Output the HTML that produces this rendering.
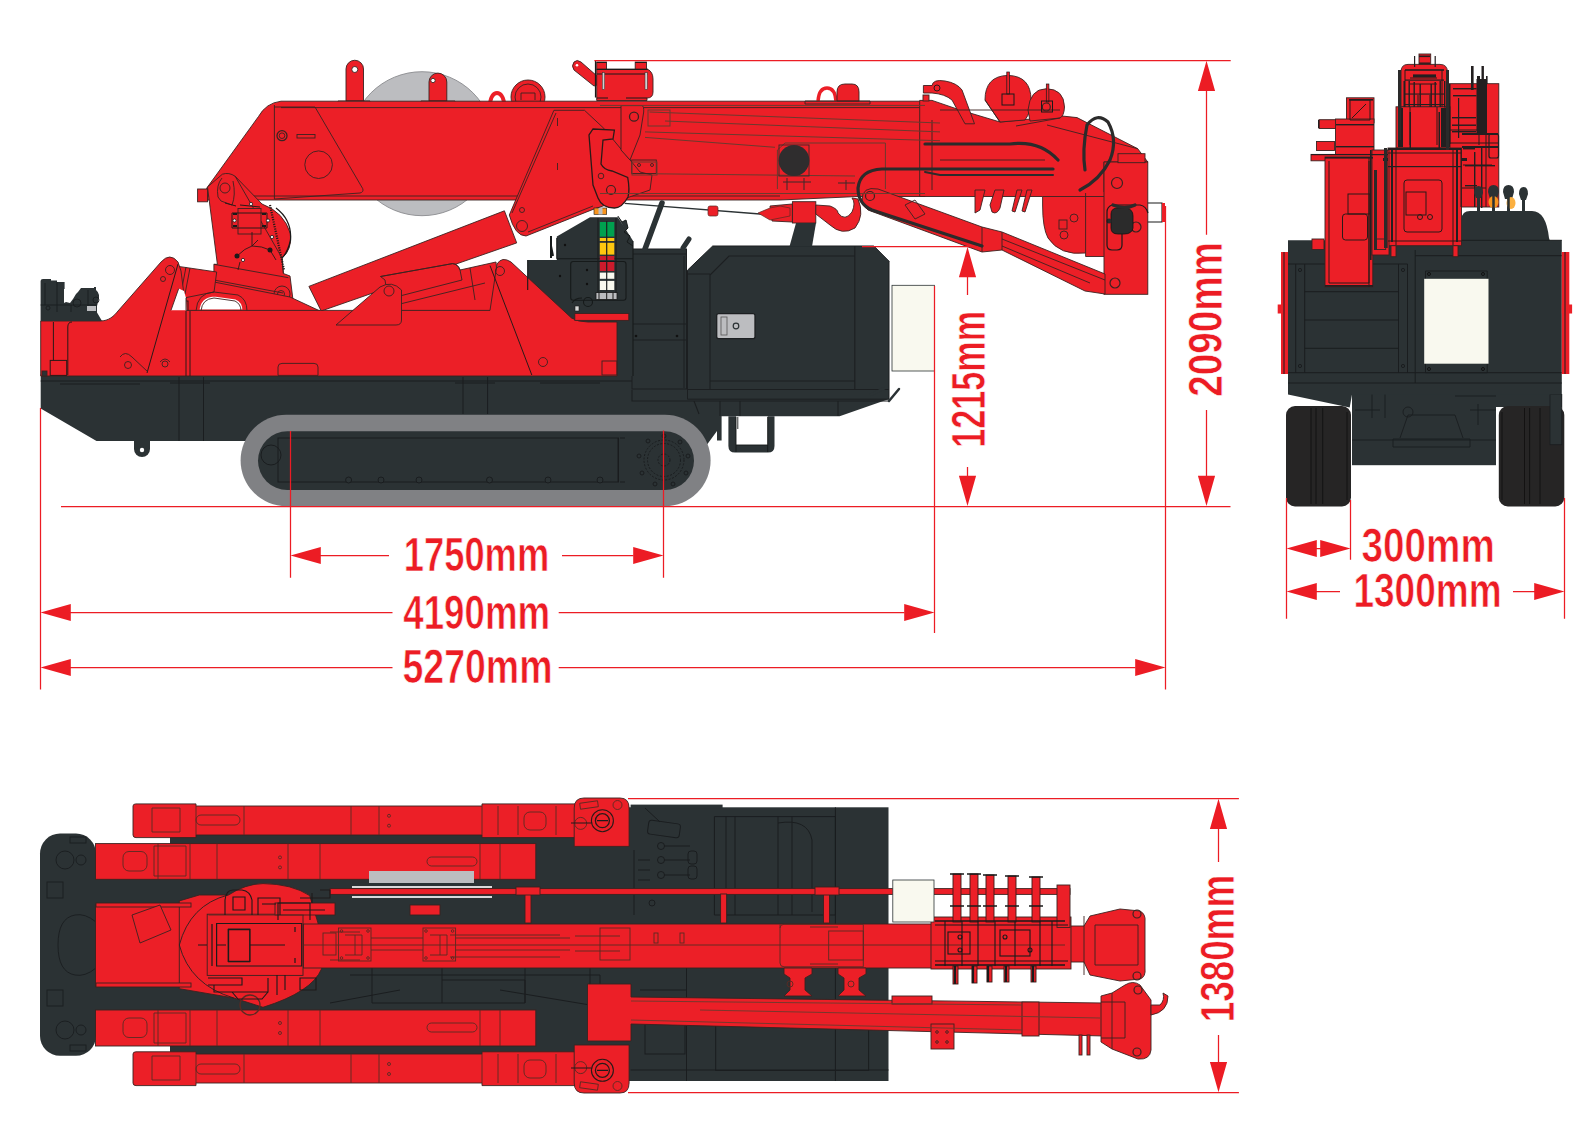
<!DOCTYPE html>
<html><head><meta charset="utf-8">
<style>
html,body{margin:0;padding:0;background:#fff;}
body{width:1588px;height:1128px;overflow:hidden;}
svg{display:block;}
.t{font-family:"Liberation Sans",sans-serif;font-weight:bold;fill:#ec1c24;stroke:#fff;stroke-width:0.7px;}
</style></head>
<body>
<svg width="1588" height="1128" viewBox="0 0 1588 1128">
<rect width="1588" height="1128" fill="#fff"/>

<g id="side">
  <!-- chassis -->
  <path fill="#2b3234" d="M40.7 374 H632 V389 H889 V399 L839.6 416.3 H721.6 V440.5 H717 V431 L706 446 L690 446 H258 V441 H96.5 L40.7 408.5 Z"/>
  <!-- track -->
  <rect x="240.6" y="414.8" width="470" height="91.4" rx="45.7" fill="#808184"/>
  <rect x="258" y="431.3" width="436" height="58.8" rx="29.4" fill="#2b3234"/>
  <g fill="none" stroke="#1a1d1f" stroke-width="1">
    <rect x="278" y="438" width="340.5" height="44"/>
    <circle cx="271" cy="455" r="10"/>
    <circle cx="664" cy="460" r="20" stroke-dasharray="2 1.5"/>
    <circle cx="664" cy="460" r="16.5" stroke-dasharray="2 1.5"/>
    <circle cx="664" cy="460" r="6" stroke-dasharray="2 1.5"/>
    <circle cx="664" cy="436" r="2"/><circle cx="680" cy="442" r="2"/><circle cx="688" cy="456" r="2"/><circle cx="686" cy="473" r="2"/><circle cx="673" cy="484" r="2"/><circle cx="655" cy="484" r="2"/><circle cx="642" cy="473" r="2"/><circle cx="639" cy="456" r="2"/><circle cx="648" cy="441" r="2"/>
    <path d="M618 438 V482 M620 438 H625 M620 482 H625"/>
    <path d="M179 377 V441 M203.5 377 V441 M463 377 V414 M487.6 377 V414 M40.7 381 H640 M60 384 H140 M170 383 H210 M455 383 H495 M540 383 H600"/>
  </g>
  <g fill="#2b3234" stroke="#1a1d1f" stroke-width="1">
    <circle cx="348.6" cy="480" r="3"/><circle cx="381" cy="480" r="3"/><circle cx="419" cy="480" r="3"/><circle cx="489.5" cy="480" r="3"/><circle cx="548" cy="480" r="3"/><circle cx="600" cy="480" r="3"/>
  </g>
  <!-- step -->
  <path fill="#2b3234" d="M728.4 416.3 V446 Q728.4 452.6 735 452.6 H768 Q774.5 452.6 774.5 446 V416.3 H767.7 V445 H736 V416.3 Z"/>
  <path fill="none" stroke="#151818" stroke-width="0.9" d="M736 417 V452 M767.7 417 V452 M736 445 H767.7 M737.8 417 V429" stroke-width="1.4"/>
  <!-- hook under chassis -->
  <path fill="#2b3234" d="M134 441 H150 V449 A8 8 0 0 1 134 449 Z"/>
  <circle cx="142" cy="450" r="2.2" fill="#fff"/>
  <!-- engine cover -->
  <path fill="#2b3234" stroke="#1c1f21" stroke-width="1" d="M687.5 270.2 L712.7 246 H873.9 L889 261.2 V399.2 H687.5 Z"/>
  <path fill="none" stroke="#1c1f21" stroke-width="1.1" d="M729 256 H854.8 V381 H710 V275 Z M710 275 V390 M687.5 274 H710 M854.8 246 V390 M687.5 389.5 H889 M632 390 V401 H889 M694 401 L699 414 M720 401 V416 M740 401 V416 M838 401 V416"/>
  <rect x="716.7" y="313.6" width="38.3" height="25.1" rx="2" fill="#bcbdc0" stroke="#1c1f21" stroke-width="1.3"/>
  <rect x="721" y="317" width="6" height="18" fill="none" stroke="#555" stroke-width="0.8"/>
  <circle cx="736" cy="326" r="2.8" fill="none" stroke="#2b3234" stroke-width="1.2"/>
  <path fill="none" stroke="#2b3234" stroke-width="2.5" d="M870 395 L885 388"/>
  <path fill="none" stroke="#2b3234" stroke-width="2.5" stroke-linecap="round" d="M889 401 L899 389"/>
  <rect x="892" y="285.3" width="42.4" height="85.7" fill="#f9f9ef" stroke="#2b3234" stroke-width="0.8"/>
  <!-- control box right -->
  <rect x="632" y="249" width="54.5" height="140" fill="#2b3234" stroke="#1c1f21" stroke-width="1"/>
  <path fill="none" stroke="#1c1f21" stroke-width="1" d="M633 254 H686 M633 324 H686 M633 340 H686 M684 256 V388"/>
  <circle cx="636" cy="336" r="1.3" fill="#111"/><circle cx="677" cy="336" r="1.3" fill="#111"/>
  <!-- control tower -->
  <path fill="#2b3234" d="M556.8 236.6 L590 217.2 H617.8 L633 240.7 V376 H527.7 V260 H556.8 Z"/>

  <!-- ===== red parts side ===== -->
  <g fill="#ec1f27" stroke="#3b2320" stroke-width="0.9">
  <!-- disc -->
  <circle cx="422" cy="143.7" r="72" fill="#bcbdc0" stroke="#8a8b8e"/>
  <!-- lugs on boom -->
  <path d="M346 101 V69 A8.75 8.75 0 0 1 363.5 69 V101 Z"/><circle cx="354.8" cy="69.5" r="3" fill="#fff"/><path fill="none" d="M338 101 H370 V104 H338 Z"/>
  <path d="M429 101 V82 A8.9 8.9 0 0 1 446.8 82 V101 Z"/><circle cx="433" cy="80.5" r="2.2" fill="#fff"/><path fill="none" d="M421 101 H455 V104 H421 Z"/>
  <path d="M489.6 106 Q491 93 497 93 Q503 93 504.7 106" fill="none" stroke="#ec1f27" stroke-width="4"/>
  <circle cx="528" cy="97" r="17"/><path fill="none" d="M521 100 V93 H535 V100"/><circle cx="528" cy="97" r="13" fill="none"/>
  <path d="M574 62 Q577 59 581 62 L597 76 V85 L594 86 L574 70 Q571 66 574 62 Z"/>
  <circle cx="577" cy="65.3" r="1.3" fill="#fff" stroke="none"/>
  <path d="M596.7 69.3 H647.7 Q653 72 653 79 V92 Q653 98 647 98 V100.5 H596.7 Z"/>
  <rect x="596.7" y="62" width="9.8" height="7.3"/>
  <rect x="635.2" y="62" width="11.3" height="7.3"/>
  <path fill="none" stroke="#1a1a1a" stroke-width="1.2" d="M595.5 60.5 V97.6 M596.7 62.5 H606.5 M635.2 62.5 H646.5 M596.7 69.3 H647.7 M596.7 74 H647.7 M597 98 H608 M626 98 H647"/>
  <rect x="602.3" y="72.7" width="2.3" height="16.6" fill="#d0d0d0" stroke="#333" stroke-width="0.5"/>
  <rect x="645" y="72.7" width="2.3" height="16.6" fill="#d0d0d0" stroke="#333" stroke-width="0.5"/>
  <!-- main boom -->
  <path d="M206.6 188.3 L258.5 116.5 Q266 103 281 101.2 H925 V196.5 H858 L780 200 H206.6 Z"/>
  <path fill="none" d="M274.4 105 V199 M281 107.6 H925 M206.6 196 H780"/>
  <!-- knuckle plate -->
  <path d="M553.9 110.3 H584.5 L603.8 128.3 L640 172 L652 175 L650 190 L593 209.4 L526 236 Q515 236 509.3 215 Z"/>
  <path fill="none" d="M556 113 L512 213 M528 232 L593 206 M557.5 118 V126 M557.5 163 V170"/>
  <circle cx="522" cy="226" r="5.5" fill="none"/><circle cx="522" cy="210" r="2.5" fill="none"/>
  <path d="M621 105.6 H642 Q644 106 643.7 112 L640 135 L630 160 L621 150 Z"/>
  <path d="M593 129 L614.4 130.2 L613 139 L603 140 L601 164 Q604 170 612 171 L627.7 177.5 Q630 190 628 197 Q622 208 614.4 208 Q602 208 598 198 L593 185 L589 135 Z" stroke="#2a1a18" stroke-width="1.3"/>
  <rect x="631.7" y="160" width="24.6" height="13.5" fill="none"/>
  <circle cx="634" cy="116.7" r="4.5" fill="none" stroke-width="1.3"/>
  <circle cx="611" cy="190" r="4.5" fill="none" stroke-width="1.2"/><circle cx="601" cy="176" r="2.8" fill="none"/>
  <circle cx="639" cy="165" r="1.5" fill="none"/><circle cx="652" cy="165" r="1.5" fill="none"/>
  <path d="M274.4 107 H315 L362.7 188.6 Q364 192 360 193 L274.4 199" fill="none"/><circle cx="282" cy="135.7" r="5" fill="none" stroke-width="1.3"/><circle cx="282" cy="135.7" r="2.8" fill="none"/><circle cx="318.6" cy="164.7" r="13.8" fill="none"/><rect x="297" y="134.5" width="18" height="3.5" fill="none"/>
  <!-- tip -->
  <path d="M919.7 100.4 H932 L960 110 L1000 122 L1062 116 L1077 117.6 L1137.7 148.7 L1147.8 162 H1104 V192 H1105 V256.5 H1085.6 V253 Q1060 256 1048 238 Q1042.6 228 1042.6 205 V196.5 H919.7 Z"/>
  <path d="M985 100 Q985 76 1008 75.4 Q1031 76 1031 100 Q1031 112 1025 120 L1000 122 Z"/>
  <path d="M1028 110 Q1030 89 1046.3 88.7 Q1064 89 1064.5 107 Q1064 116 1060 118 L1030 121 Z"/>
  <path d="M923.4 85.5 H932 Q933 79 945 81 Q957 83 962 90 L974.5 123.8 L965 123.8 L952 100 Q945 94 932 93 H923.4 Z"/>
  <rect x="1104" y="162" width="43.8" height="132.3"/>
  <rect x="1118" y="153.7" width="27" height="9"/>
  <path fill="none" d="M1042.6 196.5 H1104 M1085.6 193 V253 M1047 125 L1137.7 148.7 M985 100 L1000 122 M1016 126 L1060 118 M940 110 H1060 M940 160 H1045 M932 120 V190"/>
  <rect x="1006.8" y="72" width="2.6" height="22" fill="#ec1f27" stroke="#1a1a1a" stroke-width="0.7"/>
  <rect x="1046.3" y="84" width="2.6" height="18" fill="#ec1f27" stroke="#1a1a1a" stroke-width="0.7"/>
  <rect x="1002" y="94" width="12" height="11" fill="none" stroke="#1a1a1a" stroke-width="1"/>
  <rect x="1041.5" y="101" width="11" height="11" fill="none" stroke="#1a1a1a" stroke-width="1"/>
  <circle cx="937" cy="88" r="3" fill="none" stroke="#1a1a1a" stroke-width="0.9"/>

  <circle cx="1046.3" cy="107" r="4" fill="none" stroke-width="1.2"/>
  <circle cx="1064" cy="235" r="4" fill="none"/><circle cx="1074" cy="218" r="4" fill="none"/><rect x="1059" y="220" width="8" height="9" fill="none"/>
  <circle cx="1117" cy="183" r="5.5" fill="none" stroke-width="1.2"/><circle cx="1136" cy="227" r="5" fill="none" stroke-width="1.2"/><circle cx="1115" cy="283" r="5" fill="none" stroke-width="1.2"/>
  <path d="M1147.8 203 H1162 V222 H1147.8" fill="none" stroke="#1a1a1a" stroke-width="1.1"/>
  <rect x="1162" y="203" width="3" height="19" fill="#ec1f27" stroke="none"/>
  <path d="M1111 214 Q1111 208 1118 208 H1126 Q1133 209 1133 216 V228 Q1132 234 1124 234 H1118 Q1111 234 1111 228 Z" fill="#2b2b2b" stroke="#111" stroke-width="0.8"/>
  <circle cx="1109" cy="221" r="2.5" fill="#2b2b2b" stroke="none"/>
  <path d="M1122 234 V245 Q1122 250 1117 250 H1112 Q1107 250 1107 245 V212 Q1107 207 1112 205 H1140 Q1146 206 1148 213" fill="none" stroke="#1a1a1a" stroke-width="1.2"/>
  <path d="M975 190 L985 190 L980 210 L975 213 Z M995 190 L1004 190 L1000 208 Q997 215 992 212 L990 205 Z M1017 190 L1022 190 L1015 212 L1012 211 Z M1027 190 L1032 190 L1025 212 L1022 211 Z"/>
  <!-- hook under boom -->
  <rect x="792.4" y="201.7" width="23.4" height="21.3"/>
  <path d="M770 206 L792.4 204 V222 L772 221 Z"/>
  <circle cx="784" cy="212" r="4" fill="none"/>
  <path d="M815.8 205 L830 206 Q838 209 838 213 Q845 222 852 212 Q856 203 852 198 L858 199 Q865 215 855 228 Q842 236 830 225 L815.8 214 Z"/>
  <!-- diagonal arm -->
  <path d="M862 200 Q862 186 878 189 L982 227 L1002 232 L1105 274 V294 L1085 291 L1002 250 L982 252 L868 210 Q862 206 862 200 Z"/>
  <path fill="none" d="M982 227 V252 M1002 232 V250 M1002 239 L1105 280 M1002 246 L1090 283 M905 205 L915 200 L925 214 L915 219 Z"/>
  <circle cx="870" cy="196" r="4.5" fill="none" stroke-width="1.2"/>
  <path d="M818 101 Q819 88 827 88 Q835 88 836 101" fill="none" stroke="#ec1f27" stroke-width="3.5"/>
  <path d="M837 101 V92 Q837 84 845 84 H852 Q859 84 859 92 V101 Z"/>
  <path fill="none" d="M805 101 H870 V104 H805 Z"/>
  <rect x="923" y="95" width="6" height="6"/>
  <!-- main cylinder -->
  <path d="M308.9 286.4 L504.4 210.8 L516.7 242.9 L321.2 311 Z"/>
  <!-- left link -->
  <path d="M207.5 187 L222.4 174.2 Q229 172 235.2 176.3 L262 204 Q284 212 290.5 233.8 Q292 250 282 258 L283.4 273.5 L290 276 L293 300 L288 306 L272 306 L240 300 L214 292 L213.9 264.3 L217.4 264.3 Z"/>
  <rect x="197.6" y="189" width="9.9" height="12.8"/>
  <path fill="none" d="M235.2 176.3 L282 258 L283.4 273.5 M213.9 264.3 L288.4 277.7 M214 280 L283 293 M222 178 Q216 185 218 197 L221 201 L232 205 Q236 195 233 181"/>
  <circle cx="225" cy="188" r="5" fill="none"/>
  <rect x="238" y="208.5" width="23" height="25.5"/>
  <path fill="none" d="M232 213 H267 V228 H232 Z M240 205 L260 207 M225 203 L236 206" stroke="#2a1a18" stroke-width="1"/>
  <rect x="233" y="213" width="4" height="2" fill="#1a1a1a" stroke="none"/><rect x="233" y="225" width="4" height="2" fill="#1a1a1a" stroke="none"/>
  <rect x="262" y="213" width="4" height="2" fill="#1a1a1a" stroke="none"/><rect x="262" y="225" width="4" height="2" fill="#1a1a1a" stroke="none"/>
  <circle cx="234.5" cy="220.5" r="1.6" fill="#fff" stroke="#1a1a1a" stroke-width="0.8"/><circle cx="268" cy="220.5" r="1.6" fill="#fff" stroke="#1a1a1a" stroke-width="0.8"/>
  <circle cx="251" cy="204" r="1.6" fill="#fff" stroke="#1a1a1a" stroke-width="0.8"/><circle cx="272" cy="237" r="1.6" fill="#fff" stroke="#1a1a1a" stroke-width="0.8"/>
  <circle cx="237" cy="256" r="2.5" fill="#1a1a1a" stroke="none"/><circle cx="270" cy="250" r="2.5" fill="#1a1a1a" stroke="none"/><circle cx="243" cy="260" r="1.6" fill="#fff" stroke="#1a1a1a" stroke-width="0.8"/>
  <path fill="none" d="M237 256 Q245 248 252 246 L258 240 M252 246 Q262 246 270 250 L276 260 M240 262 L238 270 M252 232 V246" stroke="#2a1a18" stroke-width="0.9"/>
  <path fill="none" d="M276 208 Q292 220 290.5 240 Q288 252 282 258" stroke="#1a1a1a" stroke-width="1.3"/>
  <path fill="none" d="M270 205 L284 270" stroke="#2a1a18" stroke-width="2.2" stroke-dasharray="1.2 1.2"/>
  <circle cx="282" cy="294" r="8" fill="none"/>
  <circle cx="281" cy="294" r="3.5" fill="none"/>
  <path d="M186 290 L214 282 L290 297 L320 311 H186 Z"/>
  <rect x="184.5" y="301" width="3.5" height="73" fill="none" stroke="#2a1a18" stroke-width="1"/>
  <rect x="188" y="331" width="2.5" height="42" fill="none" stroke="#2a1a18" stroke-width="0.8"/>
  <circle cx="127.5" cy="353.8" r="4" fill="none" stroke-width="1.3"/><circle cx="120" cy="353.8" r="0"/>
  <circle cx="120" cy="354" r="0"/>
  <!-- left leg cylinder -->
  <path d="M178.4 266.4 L216.7 272 L214 292 L184 298 L179 285 Z"/>
  <path fill="none" d="M186 267 L181 293 M190 268 L185 294"/>
  <path d="M198 311 Q199 296 214 295 L236 298 Q244 301 244 311 Z" fill="#fff" stroke="#ec1f27" stroke-width="3"/>
  <path d="M196 311 Q197 293 214 292 L238 295 Q247 299 247 311 M201 311 Q202 299 214 298 L235 301 Q241 304 241 311" fill="none" stroke="#3b2320" stroke-width="0.9"/>
  <!-- lower cylinder mid -->
  <path d="M385 280 L380.5 276.5 L452.5 263.6 Q458 264 460 270 L496 262 L500 311 H390 Z"/>
  <path fill="none" d="M380.5 276.5 L452.5 263.6 Q458 264 460 270 L462 280 L392 298 M400 304 L485 283 M470 268 L475 300"/>
  <!-- body -->
  <path d="M40.7 321 H100 C109 321 114 316 118 311 L161 262 Q170 252 178 262 L181 271 L186 310.4 H490 L497 264 Q502 256 511 262 L571.5 318 Q578 322 588 322 H617 V376 H40.7 Z"/>
  <path d="M171 310.3 L178.7 288.5 L184 291 L186 298 L186.5 310.3 Z" fill="#fff" stroke="none"/>
  <path d="M178.7 288.5 L171 310.3 M186 298 V310.3" fill="none"/>
  <path d="M336 325 L380 287 Q392 280 401.5 290 V320 Q401.5 325 396 325 Z"/>
  <rect x="574.8" y="313.5" width="54" height="6.9"/>
  <path fill="none" d="M490 265.6 L531.8 375 M178 264 L147 373 M53.4 322 V360.4 M67.8 375 V327 Q67.8 322 72 322 M186 311 V376 M190 311 V376" stroke="#2a1a18" stroke-width="1"/>
  <path d="M278 375.4 V367 Q278 363.4 282 363.4 H314 Q318 363.4 318 367 V375.4 Z"/>
  <rect x="50.2" y="360.4" width="16.5" height="15" fill="none" stroke="#2a1a18" stroke-width="1"/><rect x="42" y="371" width="5" height="5" fill="#2b3234"/><rect x="602" y="361" width="15" height="14" fill="none"/>
  <circle cx="543" cy="362" r="4.5" fill="none"/><circle cx="128" cy="365" r="3.5" fill="none"/><circle cx="165" cy="364" r="3" fill="none"/>
  <path d="M120 357 Q125 350 132 357 L148 372 M160 362 Q165 356 170 362" fill="none"/>
  <circle cx="170" cy="270" r="4.5" fill="none"/><circle cx="163" cy="279" r="2.5" fill="none"/>
  <circle cx="500" cy="271" r="4.5" fill="none"/><circle cx="389" cy="291" r="5" fill="none"/>
  </g>
  <!-- dark mast under boom -->
  <path fill="#2b3234" d="M796 223 H816 L812 246.5 H789.5 Z"/>
  <g fill="none" stroke="#6b3a2e" stroke-width="1">
    <path d="M649.5 112 L940 123 M665 121 L940 131.9 M645 131.9 L940 140.7 M645 137.4 L775 147.3 M656 173.8 L855 176 M777.4 189 V150 L785 143 H885.4 V189 M600 105.4 H925 M600 193.5 H925"/>
    <rect x="648" y="110" width="22" height="16"/>
    <rect x="632" y="162" width="25" height="13"/>
  </g>
  <rect x="779" y="145" width="30" height="31" fill="none" stroke="#3a2a2a" stroke-width="0.9"/>
  <circle cx="794" cy="160.5" r="15.4" fill="#2f2d2e"/>
  <path fill="none" stroke="#3a2a2a" stroke-width="1" d="M783 182 H811 M787 178 V190 M804 178 V190 M838 183 H855 M846 180 V190"/>
  <g fill="none" stroke="#2b2b2b" stroke-width="3.2" stroke-linecap="round">
    <path d="M1053 169 H882 Q860 170 858 188 Q858 204 872 210 L982 246"/>
    <path d="M1053 175 H940 L925 172" stroke-width="2"/>
    <path d="M1080 190 Q1100 180 1110 160 Q1118 140 1108 122 Q1097 112 1087 125 Q1082 150 1085 170"/>
    <path d="M1135 205 Q1125 210 1113 205"/>
    <path d="M925 144 H1010 Q1040 140 1058 160"/>
  </g>
  <!-- left machinery -->
  <path fill="#2b3234" d="M40.6 281 Q40.6 279 43 279 H51 V280.6 H57 V282 H64.6 V289 H64 V303 L66 302 L70 303 L73 299 L76 294 L78 292 L81 288 H94 V287 H96 V290 Q101 294 98 302 L97 306 V312.6 L102 321 H40.6 Z"/>
  <g fill="none" stroke="#1a1d1f" stroke-width="0.9">
    <path d="M45 283 V305 M57 282 V312 M40.6 305 H97 M71 305 V312 M88 290 V306"/>
    <circle cx="77" cy="303" r="4"/><circle cx="48" cy="308" r="2"/><circle cx="96" cy="300" r="3"/>
  </g>
  <rect x="87" y="306" width="9" height="5" fill="#bcbdc0"/>
  <g fill="none" stroke="#161a1a" stroke-width="1.1">
    <path d="M556.8 258.7 H633 M527.7 260 V290 M556.8 238 V258.7 M633 241 V376"/>
    <rect x="570.7" y="261.5" width="55.3" height="38.8" rx="2.5"/>
    <circle cx="588" cy="302" r="4.5"/><path d="M572 303 Q575 298 582 298"/>
  </g>
  <rect x="596" y="292.5" width="21" height="7" fill="#bcbdc0" stroke="#1a1a1a" stroke-width="0.8"/>
  <path d="M599 292.5 V299.5 M606.7 292.5 V299.5 M613 292.5 V299.5" stroke="#1a1a1a" stroke-width="1"/>
  <rect x="575" y="306" width="4" height="5" fill="#d8d8d8" stroke="#1a1a1a" stroke-width="0.6"/>
  <rect x="594" y="208" width="12.7" height="6.4" fill="#f7941d" stroke="#1a1a1a" stroke-width="0.6"/>
  <rect x="598.5" y="208" width="4" height="6.4" fill="#bcbdc0"/>
  <path d="M617.8 216 L622 222 L626 220 L628 228 L624 232 L630 236 L627 242 L633 246" fill="#2b3234" stroke="#161a1a" stroke-width="1"/>
  <circle cx="560" cy="276" r="1.2" fill="#111"/><circle cx="565" cy="245" r="1.2" fill="#111"/><circle cx="587" cy="270" r="1.2" fill="#111"/><circle cx="587" cy="284" r="1.2" fill="#111"/>
  <path d="M551 246 L553 256 M551 236 V258" stroke="#161a1a" stroke-width="2"/>
  <!-- colour bars -->
  <rect x="599.8" y="222" width="14.5" height="14.6" fill="#00a04f"/>
  <rect x="599.8" y="238" width="14.5" height="3" fill="#fdc70f"/>
  <rect x="599.8" y="242.8" width="14.5" height="11.8" fill="#fdc70f"/>
  <rect x="599.8" y="256" width="14.5" height="4" fill="#cc1b2c"/>
  <rect x="599.8" y="262" width="14.5" height="9" fill="#cc1b2c"/>
  <rect x="599.8" y="272.6" width="14.5" height="6.2" fill="#f9f9ef"/>
  <rect x="599.8" y="280.9" width="14.5" height="9.1" fill="#f9f9ef"/>
  <path stroke="#1c1f21" stroke-width="1.2" d="M606.7 221 V291 M598 218 V293 M616 218 V293"/>
  <!-- levers -->
  <path stroke="#2b3234" stroke-width="5.5" stroke-linecap="round" d="M645 249 L662 203"/>
  <path stroke="#2b3234" stroke-width="5" stroke-linecap="round" d="M683 248 L689 239"/>
  <path stroke="#2b3234" stroke-width="1.3" fill="none" d="M624.7 203.3 L760 214 L772 212"/>
  <rect x="708" y="206" width="10" height="10" rx="2" fill="#ec1f27" stroke="#5a2a22" stroke-width="0.7"/>
  <path d="M758 213 L770 208 L780 206 L790 208 L790 216 L770 220 Z" fill="#ec1f27" stroke="#5a2a22" stroke-width="0.7"/>
</g>


<g id="front">
  <!-- undercarriage -->
  <rect x="1352" y="394" width="144" height="71.2" fill="#2b3234"/>
  <rect x="1352" y="394" width="209.8" height="13" fill="#2b3234"/>
  <g fill="none" stroke="#1a1d1f" stroke-width="0.9">
    <path d="M1352 440 H1496 M1400 438 L1408 415 H1455 L1463 438 M1393 439 H1470 V447 H1393 Z M1372 384 V418 M1385 384 V418 M1372 384 Q1378 378 1385 384 M1478 404 V425 M1455 396 H1496 M1355 410 H1380 M1470 410 H1496"/>
    <circle cx="1408" cy="412" r="5"/>
  </g>
  <!-- wheels -->
  <rect x="1286" y="406" width="65" height="100.4" rx="9" fill="#262525"/>
  <rect x="1498.8" y="406" width="65.5" height="100.4" rx="9" fill="#262525"/>
  <path stroke="#111" stroke-width="0.9" d="M1311 408 V504 M1316 408 V504 M1322.7 408 V504 M1347 412 V500 M1524.5 408 V504 M1529.6 408 V504 M1540 408 V504 M1502 412 V500"/>
  <rect x="1550" y="394.5" width="11.8" height="50.2" fill="#2b3234" stroke="#1a1d1f" stroke-width="0.8"/>
  <!-- body -->
  <path fill="#2b3234" d="M1288 240.3 H1561.8 V394.5 H1352 L1349.7 407.4 L1288 394.5 Z"/>
  <path fill="#2b3234" d="M1461.5 241 V219 Q1462 211 1470 211 H1532 Q1546 211 1549 238 L1550 241 Z"/>
  <path fill="none" stroke="#1a1d1f" stroke-width="1" d="M1415.2 250 V383 M1415.2 255.7 H1561.8 M1288 372.7 H1561.8 M1288 383 H1561.8 M1295.7 264 V372.7 M1304.7 264 V372.7 M1398.5 264 V372.7 M1407.5 264 V372.7 M1304.7 291.7 H1398.5 M1304.7 320 H1398.5 M1304.7 348.3 H1398.5 M1288 264 H1407.5 M1458.7 240.3 H1561.8"/>
  <circle cx="1300" cy="270" r="1.6" fill="none" stroke="#1a1d1f"/><circle cx="1300" cy="366" r="1.6" fill="none" stroke="#1a1d1f"/><circle cx="1403" cy="270" r="1.6" fill="none" stroke="#1a1d1f"/><circle cx="1403" cy="366" r="1.6" fill="none" stroke="#1a1d1f"/>
  <path fill="#2b3234" stroke="#1a1d1f" stroke-width="1" d="M1425.5 271 H1487.2 V372.7 H1425.5 Z"/>
  <rect x="1424.2" y="278.8" width="64.3" height="84.9" fill="#f9f9ef"/>
  <circle cx="1429" cy="274" r="1.5" fill="none" stroke="#111"/><circle cx="1483" cy="274" r="1.5" fill="none" stroke="#111"/><circle cx="1429" cy="369" r="1.5" fill="none" stroke="#111"/><circle cx="1483" cy="369" r="1.5" fill="none" stroke="#111"/>
  <!-- side red strips -->
  <rect x="1281" y="252" width="7" height="122" fill="#ec1f27"/>
  <rect x="1277.7" y="304.5" width="10.3" height="9" fill="#ec1f27"/>
  <rect x="1561.8" y="252" width="7.5" height="122" fill="#ec1f27"/>
  <rect x="1561.8" y="304.5" width="10.3" height="9" fill="#ec1f27"/>
  <path stroke="#1a1d1f" stroke-width="1" d="M1284 252 V374 M1565 252 V374"/>
  <!-- red upper structure -->
  <g fill="#ec1f27" stroke="#3b2320" stroke-width="0.9">
    <rect x="1449" y="83.7" width="49.8" height="123.3"/>
    <path d="M1401 106.8 V72 Q1401 64.4 1408 64.4 H1440 Q1447.4 64.4 1447.4 72 V106.8 Z"/>
    <rect x="1419" y="54" width="11.7" height="10.4"/>
    <rect x="1396" y="106.8" width="54" height="41.2"/>
    <rect x="1388" y="148" width="73.5" height="97.7"/>
    <rect x="1391" y="245.7" width="5" height="11"/><rect x="1453" y="245.7" width="5" height="11"/>
    <rect x="1346.5" y="97.8" width="27.5" height="25"/>
    <rect x="1319" y="119.7" width="18" height="8.8"/>
    <rect x="1335.5" y="119" width="38.5" height="38"/>
    <rect x="1316.5" y="141.5" width="18" height="9"/>
    <rect x="1311" y="154.4" width="77" height="6.4"/>
    <rect x="1325" y="157" width="47.8" height="129.8"/>
    <rect x="1372" y="150" width="17" height="105"/>
    <rect x="1312" y="239" width="12" height="10.5"/><rect x="1375.4" y="239" width="10.3" height="10.5"/>
  </g>
  <g fill="none" stroke="#2a1a18" stroke-width="1">
    <path d="M1329 161 V283 H1369 V161 M1369 157 V287 M1396 148 V245 M1453 148 V245 M1388 241 H1461.5 M1388 153 H1461.5 M1401 145 V107 M1445 145 V107 M1410 107 V145 M1437 107 V145 M1405 70 V107 M1442 70 V107 M1410 78 H1437 M1410 84 H1437 M1418 107 V95 M1430 107 V95 M1449 130 H1486 M1449 143 H1498.8 M1486 84 V207 M1479 88 V145 M1461 150 V207 M1463 165 H1492 M1462 188 H1486"/>
    <rect x="1404" y="180" width="38" height="52" rx="3"/>
    <rect x="1406" y="192" width="20" height="23"/>
    <rect x="1342.5" y="214" width="25" height="26" rx="3"/>
    <rect x="1348" y="194" width="22" height="20"/>
    <circle cx="1420" cy="217" r="2.5"/><circle cx="1430" cy="217" r="2.5"/>
    <circle cx="1347" cy="102" r="0"/>
    <path d="M1350 100 L1370 100 L1370 120 L1350 120 Z M1352 118 L1366 104"/>
  </g>
  <g fill="#231f20">
    <rect x="1419" y="55.5" width="11" height="1.6"/><rect x="1419" y="62.5" width="11" height="1.4"/>
    <rect x="1414" y="56" width="1.2" height="11"/><rect x="1434.6" y="56" width="1.2" height="11"/>
    <rect x="1405" y="69.2" width="39" height="1.6"/><rect x="1413" y="74.4" width="23" height="3"/><rect x="1405" y="79.5" width="39" height="1.2"/>
    <rect x="1403.5" y="81" width="1.5" height="26"/><rect x="1408.5" y="81" width="1.4" height="26"/><rect x="1413.5" y="82" width="1.4" height="25"/><rect x="1419.5" y="84" width="1.4" height="23"/>
    <rect x="1430.5" y="84" width="1.4" height="23"/><rect x="1434.5" y="82" width="1.4" height="25"/><rect x="1439.5" y="81" width="1.4" height="26"/><rect x="1444" y="81" width="1.4" height="26"/>
    <rect x="1405" y="93.5" width="39" height="1.1"/><rect x="1405" y="104" width="39" height="1.1"/>
    <rect x="1398" y="108" width="5" height="39"/><rect x="1441" y="108" width="9" height="39"/>
    <rect x="1409.5" y="112" width="1.5" height="36"/><rect x="1438.5" y="112" width="1.5" height="36"/>
    <rect x="1471" y="66" width="2.6" height="24"/><rect x="1481.5" y="66" width="2.4" height="14"/>
    <rect x="1477" y="76" width="3" height="7"/><rect x="1486" y="76" width="1.6" height="8"/>
    <rect x="1476.5" y="79" width="10.5" height="54"/>
    <rect x="1453" y="88" width="23.5" height="1.4"/><rect x="1453" y="95" width="23.5" height="1.4"/>
    <rect x="1452" y="117" width="24" height="1.4"/><rect x="1452" y="124.5" width="24" height="1.4"/><rect x="1452" y="131" width="24" height="1.4"/>
    <rect x="1462" y="133" width="36" height="2"/><rect x="1462" y="146" width="36" height="2"/>
    <rect x="1449" y="84" width="1.5" height="60"/><rect x="1458" y="98" width="1.2" height="40"/>
    <rect x="1489" y="134" width="9.5" height="24" rx="2" fill="none" stroke="#231f20" stroke-width="1.2"/>
    <rect x="1388" y="148" width="73.5" height="2"/><rect x="1388" y="166" width="73.5" height="1.2"/>
    <rect x="1391" y="150" width="2" height="92"/><rect x="1456" y="150" width="2" height="92"/>
    <rect x="1383" y="158" width="5" height="3"/><rect x="1461" y="158" width="6" height="3"/>
    <rect x="1325" y="157" width="48" height="1.6"/><rect x="1325" y="285" width="48" height="1.8"/>
    <rect x="1370" y="150" width="1.6" height="110"/><rect x="1386" y="150" width="1.6" height="98"/>
    <rect x="1349" y="99" width="24" height="1.6"/><rect x="1336" y="124" width="38" height="1.4"/><rect x="1336" y="146" width="38" height="1.4"/>
    <rect x="1318" y="120" width="1.4" height="8"/><rect x="1311" y="154" width="77" height="1.2"/>
    <rect x="1463" y="148" width="12" height="1.4"/><rect x="1465" y="165" width="30" height="1.4"/><rect x="1465" y="185" width="12" height="1.4"/>
    <rect x="1474" y="152" width="1.4" height="55"/><rect x="1481" y="148" width="1.4" height="60"/>
  </g>
  <g fill="#2a2a2a">
    <rect x="1374" y="170" width="3" height="80"/><rect x="1384" y="148" width="3" height="100"/><rect x="1398" y="70" width="3" height="70"/><rect x="1446" y="70" width="3" height="80"/>
  </g>
  <!-- knobs -->
  <g fill="#2b3234">
    <rect x="1477" y="188" width="3" height="24"/><path d="M1474 193 Q1474 186 1478.5 186 Q1483 186 1483 193 L1481 198 H1476 Z"/>
    <rect x="1492" y="188" width="3" height="24"/><path d="M1488 192 Q1488 185 1493.5 185 Q1499 185 1499 192 L1497 199 H1490 Z"/>
    <rect x="1507" y="188" width="3" height="24"/><path d="M1503 192 Q1503 185 1508.5 185 Q1514 185 1514 192 L1512 199 H1505 Z"/>
    <rect x="1522" y="190" width="3" height="22"/><path d="M1519 194 Q1519 187 1523.5 187 Q1528 187 1528 194 L1526 200 H1521 Z"/>
  </g>
  <ellipse cx="1493.5" cy="202" rx="5" ry="6" fill="#f7941d"/>
  <ellipse cx="1511" cy="203" rx="4.5" ry="6" fill="#fbb040"/>
  <path stroke="#2b3234" stroke-width="2.5" d="M1493.5 196 V210 M1508.5 196 V210"/>

</g>


<g id="top">
  <!-- dark background body -->
  <rect x="170" y="833" width="465" height="223" fill="#2b3234"/>
  <rect x="95.5" y="878" width="540" height="134" fill="#2b3234"/>
  <rect x="628" y="807.3" width="260.5" height="273.7" fill="#2b3234"/>
  <rect x="630.6" y="804.6" width="92" height="4" fill="#2b3234"/>
  <g fill="none" stroke="#1a1d1f" stroke-width="1">
    <path d="M714.4 816.6 H835.4 V915 H714.4 Z M726 816.6 V915 M735 816.6 V915 M778 816.6 V915 M792 816.6 V915 M835.4 807.3 V1081 M686.5 968 V1081 M630.6 1070 H888.5 M640 990 H686 M645 808 L660 822"/>
    <path d="M778 823 Q808 818 812 840 V912"/>
    <rect x="715.7" y="1024" width="152.9" height="46.5"/>
    <rect x="648" y="822" width="32" height="14" rx="3" transform="rotate(8 664 829)"/>
    <rect x="645" y="1024" width="40" height="30"/>
    <path d="M500 990 L620 1010 M350 975 H600 V1010 M330 1003 L400 990 M372 968 V1003 H442 V968 M442 980 H525 V1003 H442 M525 968 V1003 M590 968 V1010"/>
    <circle cx="661" cy="846" r="3.5"/><circle cx="661" cy="860" r="3.5"/><circle cx="661" cy="875" r="3.5"/>
    <path d="M664 846 H690 M664 860 H690 M664 875 H690"/>
    <rect x="688" y="851" width="9" height="13" rx="3"/><rect x="688" y="866" width="9" height="13" rx="3"/>
    <circle cx="652" cy="903" r="3"/><path d="M634 850 V915 M638 860 H650 M638 870 H650 M638 880 H650"/>
  </g>
  <!-- dark pill -->
  <rect x="40" y="833.6" width="56" height="222.2" rx="20" fill="#2b3234"/>
  <g fill="none" stroke="#1a1d1f" stroke-width="0.9">
    <circle cx="65" cy="860" r="9"/><circle cx="65" cy="1030" r="9"/>
    <path d="M96 922 Q85 913 75 915 Q58 918 58 945 Q58 972 75 975 Q85 977 96 968"/>
    <rect x="47" y="882" width="16" height="16"/><rect x="47" y="990" width="16" height="16"/>
    <circle cx="81" cy="860" r="5"/><circle cx="81" cy="1030" r="5"/>
    <rect x="70" y="837" width="16" height="6"/><rect x="70" y="1045" width="16" height="6"/>
  </g>
  <g fill="#ec1f27" stroke="#3b2320" stroke-width="0.9">
    <!-- arms -->
    <path d="M133 806 Q133 803.9 136 803.9 H196 V806 H482 V803.9 H578 V837.6 H482 V835 H196 V837.6 H136 Q133 837.6 133 835 Z"/>
    <rect x="95.5" y="843.6" width="440.3" height="35.7"/>
    <rect x="95.5" y="1010" width="440.3" height="36"/>
    <path d="M133 1054 Q133 1051.8 136 1051.8 H196 V1054 H482 V1051.8 H578 V1085.6 H482 V1083 H196 V1085.6 H136 Q133 1085.6 133 1083 Z"/>
    <!-- pads -->
    <path d="M574.2 846.4 V808 Q574.2 798 584 798 H620 Q629.1 798 629.1 808 V846.4 Z"/>
    <path d="M574.2 1045 V1083 Q574.2 1093 584 1093 H620 Q629.1 1093 629.1 1083 V1045 Z"/>
    <!-- body -->
    <rect x="95.5" y="905" width="100" height="81.4"/>
    <path d="M179.3 900.9 L199.3 895 H228.5 Q245 884 263 883.6 Q292 884 309.7 895.6 L318 923 L321.6 968.8 Q312 992 263 1007.3 L233.8 998 L179.3 988.7 Z"/>
    <rect x="96" y="903" width="95" height="4"/>
    <rect x="96" y="983" width="95" height="4"/>
    <path d="M132 915 L160 905 L171 930 L140 943 Z"/>
    <!-- boom -->
    <rect x="207.2" y="914.2" width="95.8" height="61.2"/>
    <rect x="303.5" y="924" width="765" height="44"/>
    <path d="M1067 926 H1084 L1090 916 L1120 909 L1140 911 Q1146 914 1145 922 V968 Q1146 977 1140 979 L1120 981 L1090 975 L1084 962 H1067 Z"/>
    <path fill="none" d="M1084 916 V975 M1095 925 H1138 V965 H1095 Z"/>
    <circle cx="1137" cy="914" r="4" fill="none" stroke-width="1.2"/><circle cx="1137" cy="976" r="4" fill="none" stroke-width="1.2"/>
    <!-- rod -->
    <rect x="330" y="888.6" width="740" height="5.8"/>
    <rect x="275" y="903" width="60" height="12"/><rect x="410" y="905" width="30" height="10"/>
    <!-- post supports -->
    <rect x="525" y="894" width="6" height="29"/><rect x="720.6" y="894" width="6" height="29"/><rect x="823.5" y="894" width="6" height="29"/>
    <rect x="516" y="887" width="24" height="8"/><rect x="815" y="887" width="24" height="8"/>
    <path d="M784 968 H812 V974 L805 978 V990 L812 996 H784 L790 990 V978 L784 974 Z"/>
    <path d="M838 968 H866 V974 L859 978 V990 L866 996 H838 L844 990 V978 L838 974 Z"/>
    <!-- tip cluster -->
    <rect x="931" y="917" width="140" height="52"/>
    <rect x="1057" y="885" width="13" height="42.5"/>
    <!-- lower arm -->
    <path d="M587.5 984 H631 V997 L1104 1003 V1036 L631 1024 V1041 H587.5 Z"/>
    <path d="M1101 996 L1112 993 L1125 985 Q1133 980 1140 985 L1151 1000 V1050 Q1150 1060 1138 1059 L1112 1049 L1101 1042 Z"/>
    <path d="M1151 1005 H1160 Q1165 1000 1163 993 L1168 996 Q1168 1012 1151 1015 Z"/>
    <path fill="none" d="M1112 993 V1049 M1101 1002 H1125 V1038 H1101"/>
    <circle cx="1138" cy="990" r="4" fill="none" stroke-width="1.2"/><circle cx="1137" cy="1052" r="4" fill="none" stroke-width="1.2"/>
    <rect x="1022" y="1002" width="17" height="34"/>
    <rect x="931" y="1024" width="23" height="25"/>
    <circle cx="937" cy="1032" r="1.3" fill="none"/><circle cx="947" cy="1032" r="1.3" fill="none"/><circle cx="937" cy="1042" r="1.3" fill="none"/><circle cx="947" cy="1042" r="1.3" fill="none"/>
    <rect x="1079" y="1035" width="3" height="20"/><rect x="1087" y="1035" width="3" height="20"/>
    <rect x="892" y="996" width="40" height="8"/>
  </g>
  <!-- arm details -->
  <g fill="none" stroke="#5a2a22" stroke-width="0.9">
    <path d="M196 806 V835 M244 806 V835 M351 806 V835 M379 806 V835 M482 806 V835 M498 806 V835 M518 806 V835 M556 806 V835 M152 808 H180 V832 H152 Z"/><circle cx="389" cy="815.8" r="1.5"/><circle cx="389" cy="825.7" r="1.5"/>
    <path d="M196 1054 V1083 M244 1054 V1083 M351 1054 V1083 M379 1054 V1083 M482 1054 V1083 M498 1054 V1083 M518 1054 V1083 M556 1054 V1083 M152 1056 H180 V1080 H152 Z"/><circle cx="389" cy="1064" r="1.5"/><circle cx="389" cy="1074" r="1.5"/>
    <path d="M158 843.6 V879 M190 843.6 V879 M217 843.6 V879 M288 843.6 V879 M320 843.6 V879 M480 843.6 V879 M500 843.6 V879"/>
    <path d="M158 1010 V1046 M190 1010 V1046 M217 1010 V1046 M288 1010 V1046 M320 1010 V1046 M480 1010 V1046 M500 1010 V1046"/>
    <rect x="196" y="815" width="44" height="10" rx="5"/><rect x="196" y="1064" width="44" height="10" rx="5"/>
    <rect x="427" y="857" width="50" height="9" rx="4.5"/><rect x="427" y="1023" width="50" height="9" rx="4.5"/>
    <rect x="123" y="851.5" width="24" height="19.5" rx="6"/><rect x="123" y="1018" width="24" height="19.5" rx="6"/><circle cx="280" cy="857.4" r="1.5"/><circle cx="280" cy="867.4" r="1.5"/><circle cx="280" cy="1023" r="1.5"/><circle cx="280" cy="1033" r="1.5"/><path d="M154 846 H186 V876 H154 Z M154 1013 H186 V1043 H154 Z"/>
    <rect x="524" y="812" width="22" height="18" rx="6"/><rect x="524" y="1060" width="22" height="18" rx="6"/>
    <circle cx="602.4" cy="820.7" r="11" stroke="#2a1a18" stroke-width="1.1"/><circle cx="602.4" cy="820.7" r="7" stroke="#2a1a18" stroke-width="1.3"/>
    <circle cx="580.7" cy="823.4" r="6"/><path d="M571 823 H591 M597 820.7 H608" stroke="#1e1a1a" stroke-width="1.2"/>
    <circle cx="617.5" cy="805" r="4.5"/><rect x="580" y="802" width="18" height="6" transform="rotate(-8 589 805)"/>
    <circle cx="602.4" cy="1070.3" r="11" stroke="#2a1a18" stroke-width="1.1"/><circle cx="602.4" cy="1070.3" r="7" stroke="#2a1a18" stroke-width="1.3"/>
    <circle cx="580.7" cy="1067.6" r="6"/><path d="M571 1068 H591 M597 1070.3 H608" stroke="#1e1a1a" stroke-width="1.2"/>
    <circle cx="617.5" cy="1086" r="4.5"/><rect x="580" y="1083" width="18" height="6" transform="rotate(8 589 1086)"/>
    <path d="M208.5 915 H303.5 M228 929 H250 V962 H228 Z M450 935 H560 M450 957 H560 M303.5 945 H1065 M330 932 H360 M330 960 H360 M810 927 H838 M810 964 H838"/>
    <path d="M780 924.3 V963 Q780 966.8 784 966.8 H863.3 V924.3 H784 Q780 924.3 780 928"/>
    <rect x="828.7" y="931" width="34.6" height="29"/>
    <rect x="338.5" y="928" width="32.5" height="33"/><rect x="423" y="928" width="32.6" height="33"/>
    <path d="M345 935 H362 V955 H345 M430 935 H447 V955 H430 M355 935 V955 M440 935 V955"/>
    <circle cx="341.5" cy="931" r="1.3"/><circle cx="368" cy="931" r="1.3"/><circle cx="341.5" cy="958" r="1.3"/><circle cx="368" cy="958" r="1.3"/>
    <circle cx="426" cy="931" r="1.3"/><circle cx="452.6" cy="931" r="1.3"/><circle cx="426" cy="958" r="1.3"/><circle cx="452.6" cy="958" r="1.3"/>
    <rect x="323" y="933" width="13" height="22"/>
    <path d="M371 938 H423 M371 950 H423 M455.6 938 H570 M455.6 950 H570 M575 936 H620 M575 951 H620"/>
    <rect x="600" y="928" width="30" height="32"/>
    <rect x="654" y="933" width="4" height="10"/><rect x="680" y="933" width="4" height="10"/>
    <circle cx="790" cy="984" r="3"/><circle cx="851" cy="984" r="3"/>
    <circle cx="250" cy="1005" r="10" stroke-width="1.3"/>
    <path d="M216.6 923.5 H301.7 V966 H216.6 Z M212 924 V966 M198 945 H207 M250 945 H285 M216 945 H226 M295 927 V932 M295 958 V963" stroke="#1e1a1a" stroke-width="1.2"/>
    <path d="M228.5 929.5 H249.8 V961.4 H228.5 Z" stroke="#1e1a1a" stroke-width="1.3"/>
    <path d="M179.3 945 Q190 905 228 895 M179.3 945 Q190 985 233.8 998" stroke="#2a2020"/>
    <path d="M225 915 V900 Q226 890 233 890 H242 Q250 891 252 900 V915 M233 897 H245 V910 H233 Z" stroke="#1e1a1a" stroke-width="1.1"/>
    <path d="M258 915 V898 H280 V915 M262 904 H276" stroke="#1e1a1a" stroke-width="1.1"/>
    <path d="M278 920 V903 H310 V920 M283 910 H325 M300 898 H325 M312 893 V903 M320 890 H330 V898 H320" stroke="#1e1a1a" stroke-width="1.1"/>
    <path d="M208 978 H242 V985 H208 M214 985 V992 H268 V978 M232 992 L238 999 H262 L268 992 M277 975 V995 M285 975 V990 M300 978 H316 V990 H300 Z" stroke="#1e1a1a" stroke-width="1.1"/>
    <path d="M631 1001 L1022 1005 M631 1020 L1022 1030 M700 1010 L1100 1018" stroke="#6b3a2e"/>
  </g>
  <!-- cylinders on tip -->
  <g fill="#ec1f27" stroke="#3a1a18" stroke-width="0.9">
    <rect x="953" y="874" width="8" height="48"/><rect x="970" y="874" width="8" height="48"/><rect x="986" y="875" width="8" height="47"/><rect x="1008" y="876" width="8" height="46"/><rect x="1032" y="877" width="8" height="45"/>
    <rect x="953" y="966" width="5" height="18"/><rect x="972" y="966" width="5" height="17"/><rect x="987" y="966" width="5" height="16"/><rect x="1004" y="966" width="5" height="16"/><rect x="1031" y="966" width="5" height="16"/>
  </g>
  <path fill="none" stroke="#1a1a1a" stroke-width="1.6" d="M950 874 H964 M967 874 H981 M983 875 H997 M1005 876 H1019 M1029 877 H1043 M950 906 H964 M967 906 H981 M983 906 H997 M1005 906 H1019 M1029 906 H1043 M935 921 H1065 M935 965 H1065"/>
  <g fill="none" stroke="#1a1a1a" stroke-width="1.1">
    <path d="M935 925 H1068 M935 961 H1068 M945 921 V966 M962 921 V966 M978 921 V966 M995 921 V966 M1015 921 V966 M1040 921 V966 M1052 921 V966"/>
    <rect x="948" y="932" width="22" height="22"/><rect x="1000" y="930" width="30" height="26"/>
    <circle cx="960" cy="937" r="2"/><circle cx="960" cy="950" r="2"/><circle cx="1005" cy="937" r="2"/><circle cx="1030" cy="950" r="2"/>
  </g>
  <path stroke="#1a1a1a" stroke-width="2.2" d="M955 966 V984 M973 966 V983 M988 966 V982 M1006 966 V982 M1033 966 V982"/>
  <rect x="892.8" y="880" width="41.2" height="42" fill="#f9f9ef" stroke="#2b3234" stroke-width="0.8"/>
  <!-- grey plates -->
  <rect x="369" y="871" width="105" height="12" fill="#bcbdc0"/>
  <path stroke="#d9dadb" stroke-width="2" d="M352 887 H492 M352 897 H492"/>
</g>
<g id="dims" stroke="#ec1c24" stroke-width="1.25" fill="none">
  <path d="M61 506.5H1230.5 M594.4 60.5H1230.7 M40.5 408V689.6 M290.5 431V577.8 M663.5 430.6V577.8 M934.5 286V633 M1165.5 206V689.6 M862 246.5H977.8 M320 555.5H389 M562 555.5H633.5 M70 612.5H392.5 M558.7 612.5H904.5 M70 667.5H392.5 M558.7 667.5H1135.5 M967.5 277V294.9 M967.5 467V476 M1206.5 90V234.7 M1206.5 410V476 M1286.5 498V618.7 M1350.5 500V559.8 M1564.5 498V618.7 M1316 591.5H1340 M1513 591.5H1535 M1316 548.5H1321 M628 798.5H1238.9 M628 1092.5H1238.9 M1218.5 828V862 M1218.5 1035V1063"/>
</g>
<g id="arrows" fill="#ec1c24">
  <path d="M290.5 555.5L320.8 546.9V564.1Z M663.5 555.5L633.2 546.9V564.1Z M40.5 612.5L70.8 603.9V621.1Z M934.5 612.5L904.2 603.9V621.1Z M40.5 667.5L70.8 658.9V676.1Z M1165.5 667.5L1135.2 658.9V676.1Z M967.5 247L958.9 277.3H976.1Z M967.5 506L958.9 475.7H976.1Z M1206.5 60.8L1197.9 91.1H1215.1Z M1206.5 506L1197.9 475.7H1215.1Z M1286.5 548.5L1316.8 539.9V557.1Z M1350.5 548.5L1320.2 539.9V557.1Z M1286.5 591.5L1316.8 582.9V600.1Z M1564.5 591.5L1534.2 582.9V600.1Z M1218.5 798.8L1209.9 829.0999999999999H1227.1Z M1218.5 1092.2L1209.9 1061.9H1227.1Z"/>
</g>
<g id="texts">
  <text class="t" font-size="49" text-anchor="middle" transform="translate(476.5 571) scale(0.7416 1)">1750mm</text>
  <text class="t" font-size="49" text-anchor="middle" transform="translate(476.75 629) scale(0.7494 1)">4190mm</text>
  <text class="t" font-size="49" text-anchor="middle" transform="translate(477.5 683.3) scale(0.7648 1)">5270mm</text>
  <text class="t" font-size="49" text-anchor="middle" transform="translate(1428.2 562) scale(0.7891 1)">300mm</text>
  <text class="t" font-size="49" text-anchor="middle" transform="translate(1427.5 607.3) scale(0.7561 1)">1300mm</text>
  <text class="t" font-size="49" text-anchor="middle" transform="translate(984.5 379.4) rotate(-90) scale(0.6980 1)">1215mm</text>
  <text class="t" font-size="49" text-anchor="middle" transform="translate(1222.3 319.4) rotate(-90) scale(0.7891 1)">2090mm</text>
  <text class="t" font-size="49" text-anchor="middle" transform="translate(1234.4 948.6) rotate(-90) scale(0.7522 1)">1380mm</text>
</g>
</svg>
</body></html>
